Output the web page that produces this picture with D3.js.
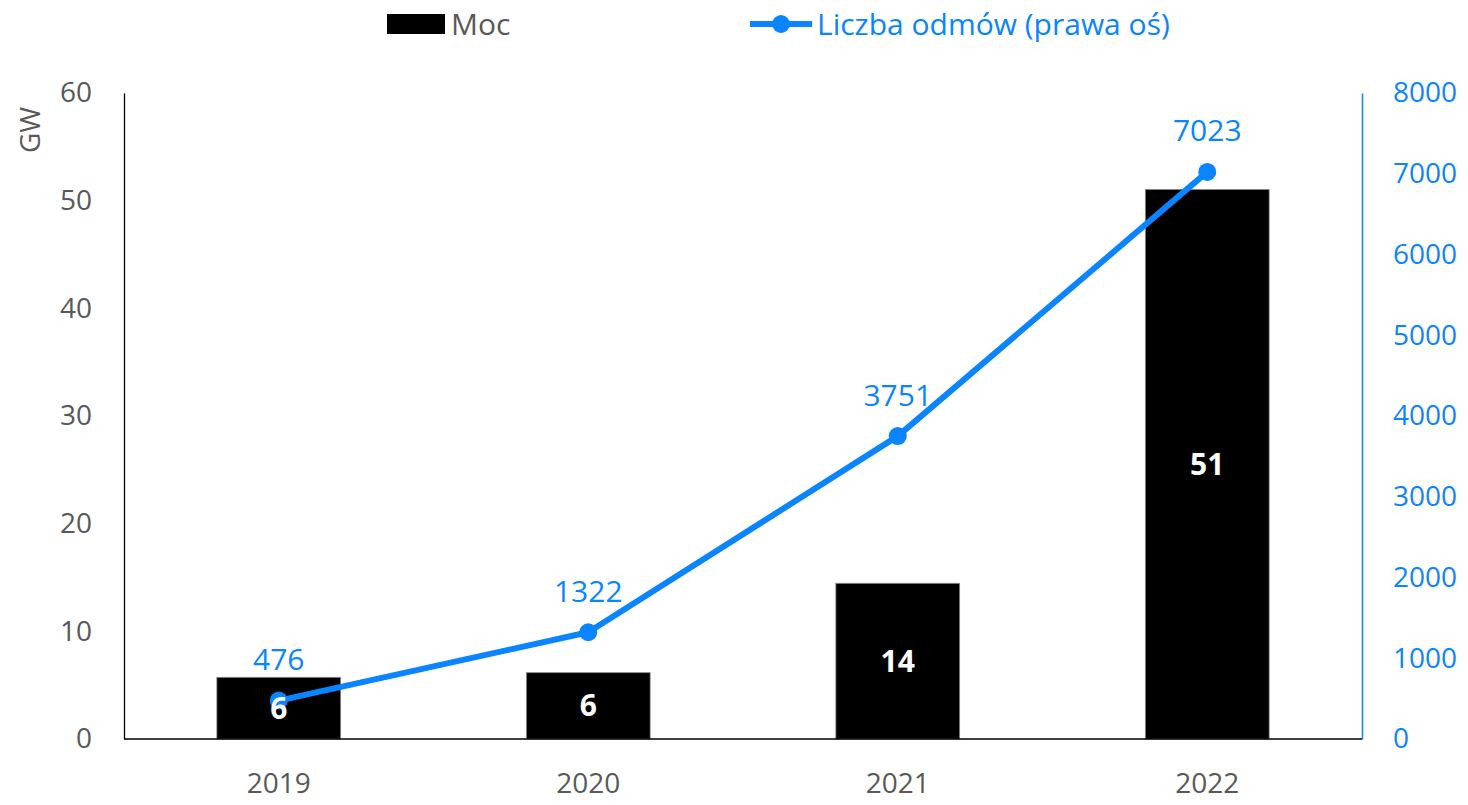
<!DOCTYPE html>
<html>
<head>
<meta charset="utf-8">
<script src="https://cdnjs.cloudflare.com/ajax/libs/d3/7.8.5/d3.min.js"></script>
<style>
  body { margin: 0; background: #fff; }
  text { font-family: "Open Sans", "Noto Sans", sans-serif; }
</style>
</head>
<body>
<script>
var w = 1468;
var h = 805;

var years = ["2019", "2020", "2021", "2022"];
var moc = [5.73, 6.16, 14.46, 51.04];
var mocLabels = ["6", "6", "14", "51"];
var odmowy = [476, 1322, 3751, 7023];
var leftTicks = [0, 10, 20, 30, 40, 50, 60];
var rightTicks = [0, 1000, 2000, 3000, 4000, 5000, 6000, 7000, 8000];

var blue = "#0a84ff";
var grey = "#595959";

var mLeft = 124, mRight = 1362, mTop = 93, mBottom = 739;

var svg = d3.select("body")
  .append("svg")
  .attr("width", w)
  .attr("height", h);

var xScale = d3.scaleBand()
  .domain(years)
  .range([mLeft, mRight])
  .paddingInner(0.6)
  .paddingOuter(0.3);

var yLeft = d3.scaleLinear().domain([0, 60]).range([mBottom, mTop]);
var yRight = d3.scaleLinear().domain([0, 8000]).range([mBottom, mTop]);

// bars
svg.selectAll("rect.bar")
  .data(moc)
  .enter()
  .append("rect")
  .attr("class", "bar")
  .attr("x", function(d, i) { return xScale(years[i]); })
  .attr("y", function(d) { return yLeft(d); })
  .attr("width", xScale.bandwidth())
  .attr("height", function(d) { return mBottom - yLeft(d); })
  .attr("fill", "#000")
  .attr("stroke", "#888")
  .attr("stroke-width", 0.8);

// axes
var axL = svg.append("g")
  .attr("transform", "translate(" + mLeft + ",0)")
  .call(d3.axisLeft(yLeft).tickValues(leftTicks).tickSize(0).tickPadding(32));
axL.select(".domain").attr("stroke", "#000").attr("stroke-width", 1.3);
axL.selectAll("text").attr("fill", grey).attr("font-size", "28px")
  .style("font-family", "'Open Sans', sans-serif");

var axR = svg.append("g")
  .attr("transform", "translate(" + mRight + ",0)")
  .call(d3.axisRight(yRight).tickValues(rightTicks).tickFormat(d3.format("d"))
    .tickSize(0).tickPadding(31));
axR.select(".domain").attr("stroke", blue).attr("stroke-width", 1.5);
axR.selectAll("text").attr("fill", blue).attr("font-size", "28px")
  .style("font-family", "'Open Sans', sans-serif");

var axB = svg.append("g")
  .attr("transform", "translate(0," + mBottom + ")")
  .call(d3.axisBottom(xScale).tickSize(0).tickPadding(34));
axB.select(".domain").attr("stroke", "#000").attr("stroke-width", 1.3)
  .attr("d", "M" + mLeft + ",0H" + mRight);
axB.selectAll("text").attr("fill", grey).attr("font-size", "28px")
  .style("font-family", "'Open Sans', sans-serif");

svg.append("text")
  .attr("transform", "translate(40,130) rotate(-90)")
  .attr("text-anchor", "middle")
  .attr("fill", grey)
  .attr("font-size", "28px")
  .text("GW");

// line
var cx = function(d, i) { return xScale(years[i]) + xScale.bandwidth() / 2; };
var line = d3.line()
  .x(cx)
  .y(function(d) { return yRight(d); });

svg.append("path")
  .datum(odmowy)
  .attr("d", line)
  .attr("fill", "none")
  .attr("stroke", blue)
  .attr("stroke-width", 6)
  .attr("stroke-linejoin", "round");

svg.selectAll("circle.pt")
  .data(odmowy)
  .enter()
  .append("circle")
  .attr("class", "pt")
  .attr("cx", cx)
  .attr("cy", function(d) { return yRight(d); })
  .attr("r", 9)
  .attr("fill", blue);

// bar labels (drawn over the line)
svg.selectAll("text.barlab")
  .data(moc)
  .enter()
  .append("text")
  .attr("class", "barlab")
  .attr("x", function(d, i) { return xScale(years[i]) + xScale.bandwidth() / 2; })
  .attr("y", function(d) { return (yLeft(d) + mBottom) / 2; })
  .attr("dy", "0.35em")
  .attr("text-anchor", "middle")
  .attr("fill", "#fff")
  .attr("font-size", "30px")
  .attr("font-weight", "bold")
  .text(function(d, i) { return mocLabels[i]; });

svg.selectAll("text.ptlab")
  .data(odmowy)
  .enter()
  .append("text")
  .attr("class", "ptlab")
  .attr("x", cx)
  .attr("y", function(d) { return yRight(d) - 41; })
  .attr("dy", "0.35em")
  .attr("text-anchor", "middle")
  .attr("fill", blue)
  .attr("font-size", "30px")
  .text(function(d) { return d; });

// legend
svg.append("rect")
  .attr("x", 387).attr("y", 14).attr("width", 58).attr("height", 20)
  .attr("fill", "#000");
svg.append("text")
  .attr("x", 451).attr("y", 24).attr("dy", "0.35em")
  .attr("fill", grey).attr("font-size", "30px")
  .text("Moc");
svg.append("line")
  .attr("x1", 750).attr("x2", 812).attr("y1", 24).attr("y2", 24)
  .attr("stroke", blue).attr("stroke-width", 6);
svg.append("circle")
  .attr("cx", 781).attr("cy", 24).attr("r", 9).attr("fill", blue);
svg.append("text")
  .attr("x", 817).attr("y", 24).attr("dy", "0.35em")
  .attr("fill", blue).attr("font-size", "30px")
  .text("Liczba odmów (prawa oś)");
</script>
</body>
</html>
